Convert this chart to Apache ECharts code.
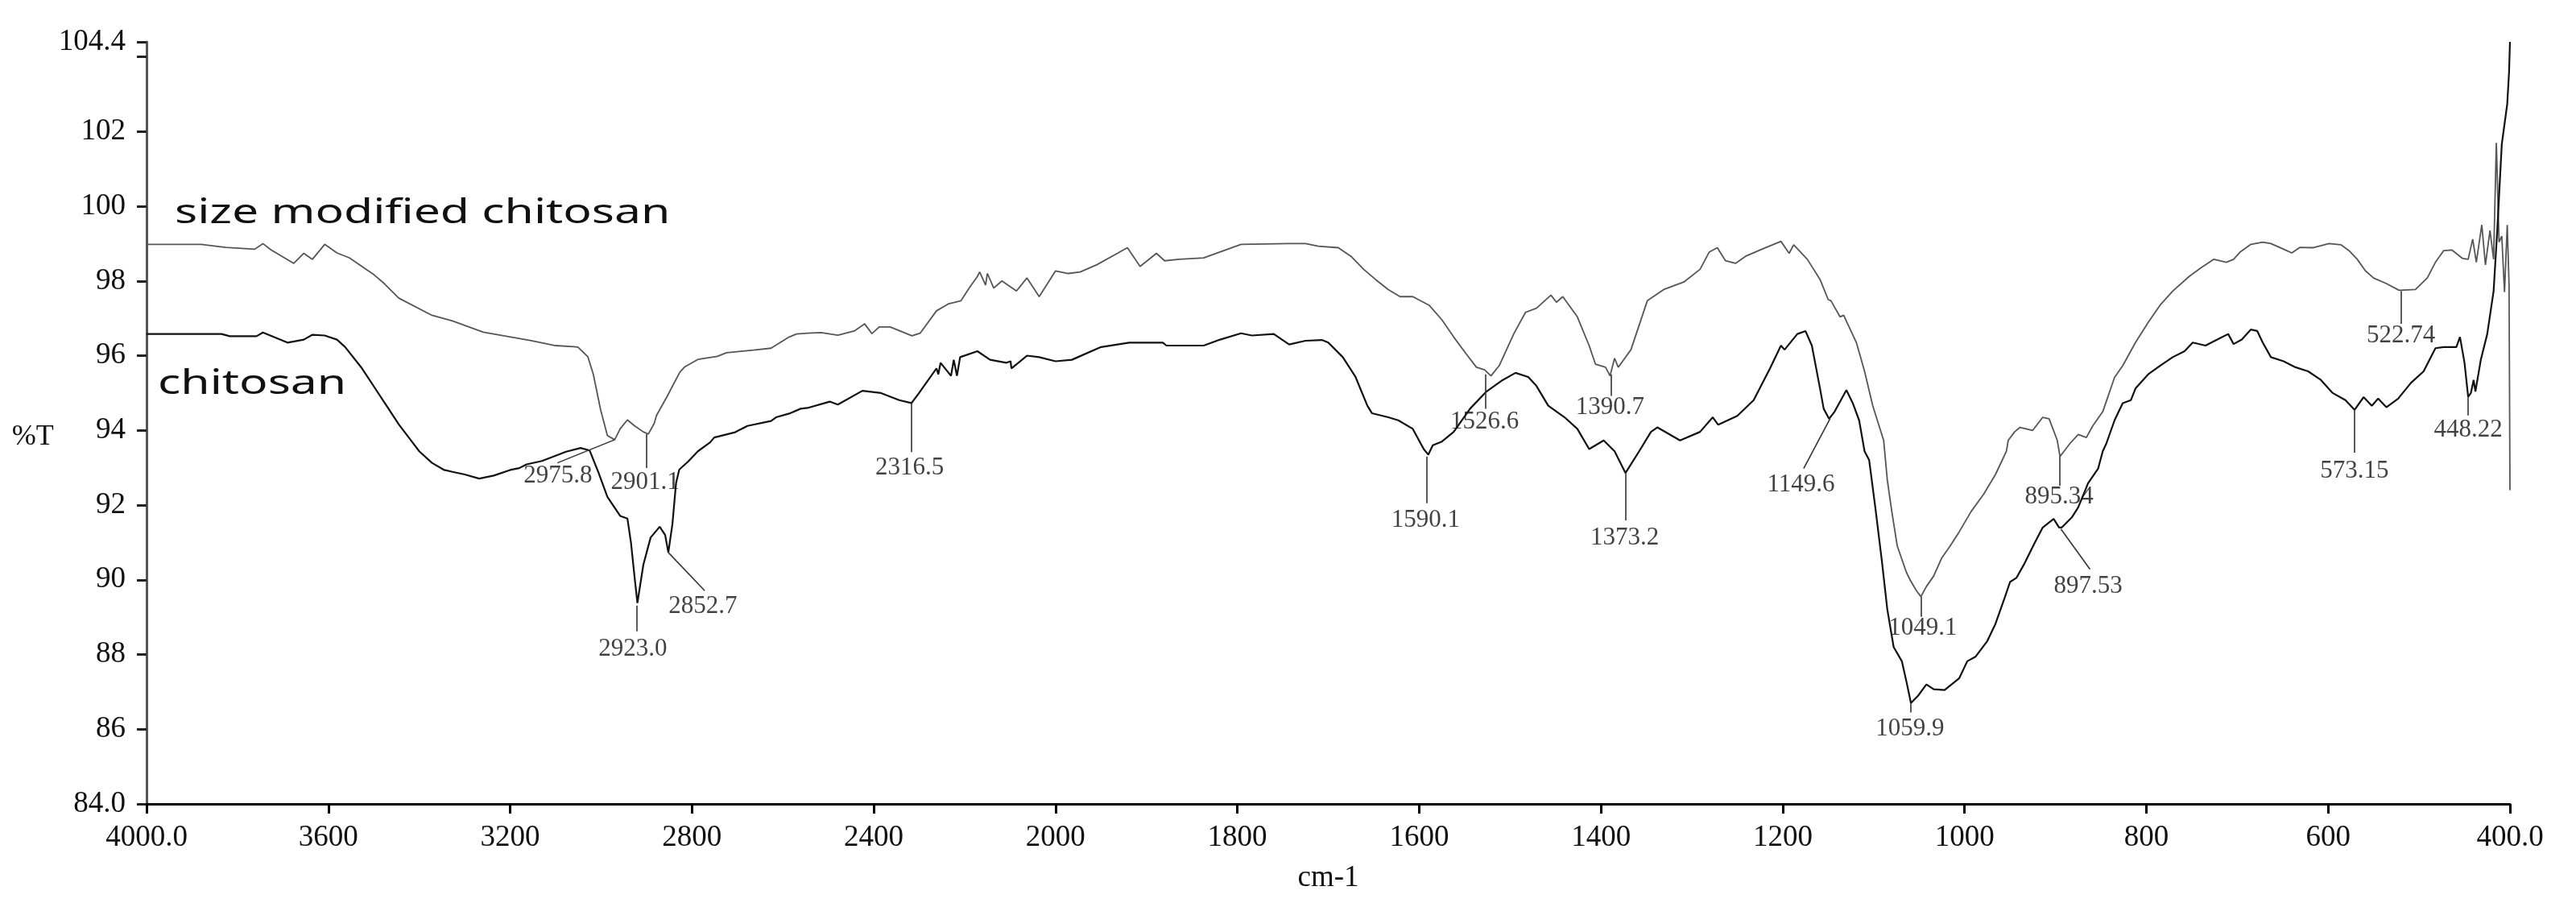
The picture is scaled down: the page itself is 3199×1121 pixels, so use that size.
<!DOCTYPE html>
<html>
<head>
<meta charset="utf-8">
<title>FTIR chitosan</title>
<style>
  html, body { margin: 0; padding: 0; background: #fff; }
  #chart { width: 3199px; height: 1121px; }
</style>
</head>
<body>
<div id="chart"></div>
<script src="https://cdn.jsdelivr.net/npm/echarts/dist/echarts.min.js"></script>
<script>
// x axis is split: 4000-2000 at 400/step, 2000-400 at 200/step (equal tick spacing)
var xTicks = [4000, 3600, 3200, 2800, 2400, 2000, 1800, 1600, 1400, 1200, 1000, 800, 600, 400];
var xTickLabels = ['4000.0', '3600', '3200', '2800', '2400', '2000', '1800', '1600', '1400', '1200', '1000', '800', '600', '400.0'];
var yTicks = [84, 86, 88, 90, 92, 94, 96, 98, 100, 102, 104.4];
var yTickLabels = ['84.0', '86', '88', '90', '92', '94', '96', '98', '100', '102', '104.4'];

// [wavenumber, %T]
var sizeModified = [
  [4000, 98.98], [3994, 98.98], [3880, 98.98], [3826, 98.9], [3762, 98.85], [3744, 99.0], [3726, 98.83],
  [3676, 98.47], [3654, 98.74], [3635, 98.58], [3608, 98.98], [3581, 98.75], [3554, 98.62], [3499, 98.16],
  [3477, 97.93], [3445, 97.54], [3372, 97.08], [3327, 96.93], [3259, 96.63], [3156, 96.41], [3100, 96.27],
  [3061, 96.24], [3051, 96.23], [3029, 95.97], [3017, 95.5], [3001, 94.55], [2986, 93.86], [2970, 93.75],
  [2958, 94.04], [2942, 94.28], [2926, 94.12], [2907, 93.96], [2896, 93.9], [2883, 94.19], [2878, 94.4],
  [2855, 94.9], [2827, 95.55], [2816, 95.7], [2787, 95.9], [2744, 95.98], [2724, 96.08], [2665, 96.15],
  [2626, 96.2], [2586, 96.5], [2570, 96.58], [2546, 96.6], [2516, 96.62], [2479, 96.55], [2443, 96.66],
  [2420, 96.85], [2404, 96.59], [2388, 96.77], [2364, 96.77], [2316, 96.53], [2298, 96.6], [2262, 97.2],
  [2235, 97.39], [2208, 97.47], [2190, 97.81], [2172, 98.12], [2167, 98.24], [2154, 97.89], [2150, 98.2],
  [2136, 97.81], [2118, 98.0], [2086, 97.73], [2063, 98.08], [2036, 97.58], [2000, 98.27], [1986, 98.2],
  [1973, 98.24], [1955, 98.43], [1932, 98.74], [1921, 98.89], [1907, 98.39], [1889, 98.74], [1880, 98.54],
  [1864, 98.58], [1837, 98.62], [1796, 98.98], [1743, 99.0], [1725, 99.0], [1711, 98.93], [1689, 98.89],
  [1675, 98.66], [1661, 98.31], [1648, 98.04], [1634, 97.77], [1621, 97.58], [1607, 97.58], [1589, 97.35],
  [1575, 96.96], [1562, 96.5], [1548, 96.04], [1537, 95.69], [1528, 95.62], [1521, 95.46], [1512, 95.73],
  [1496, 96.58], [1483, 97.16], [1471, 97.27], [1455, 97.62], [1449, 97.43], [1442, 97.58], [1426, 97.04],
  [1413, 96.27], [1406, 95.77], [1395, 95.69], [1390, 95.46], [1385, 95.93], [1381, 95.69], [1367, 96.16],
  [1349, 97.47], [1331, 97.77], [1309, 97.97], [1291, 98.31], [1281, 98.77], [1272, 98.89], [1263, 98.54],
  [1252, 98.47], [1241, 98.66], [1223, 98.85], [1202, 99.06], [1193, 98.74], [1188, 98.97], [1173, 98.58],
  [1159, 98.04], [1150, 97.5], [1147, 97.47], [1137, 97.04], [1133, 97.08], [1119, 96.35], [1110, 95.58],
  [1101, 94.66], [1089, 93.73], [1085, 92.67], [1080, 91.82], [1074, 90.9], [1064, 90.2], [1060, 90.0],
  [1053, 89.71], [1048, 89.55], [1042, 89.82], [1034, 90.1], [1025, 90.59], [1016, 90.9], [1006, 91.28],
  [993, 91.82], [979, 92.29], [966, 92.82], [954, 93.44], [952, 93.73], [945, 93.96], [939, 94.08],
  [925, 94.0], [914, 94.35], [907, 94.31], [898, 93.73], [895, 93.3], [884, 93.65], [875, 93.89],
  [866, 93.81], [859, 94.12], [848, 94.5], [835, 95.42], [826, 95.73], [812, 96.35], [798, 96.89],
  [785, 97.35], [771, 97.73], [753, 98.12], [740, 98.35], [726, 98.58], [712, 98.5], [704, 98.58],
  [697, 98.77], [685, 98.98], [672, 99.04], [663, 99.0], [649, 98.85], [640, 98.75], [631, 98.9],
  [617, 98.89], [599, 99.0], [586, 98.97], [577, 98.81], [568, 98.58], [559, 98.27], [550, 98.08],
  [536, 97.93], [522, 97.75], [504, 97.77], [491, 98.08], [482, 98.5], [473, 98.81], [464, 98.83],
  [452, 98.6], [446, 98.58], [441, 99.12], [437, 98.5], [431, 99.5], [427, 98.43], [422, 99.35],
  [418, 98.58], [415, 101.7], [412, 99.04], [409, 99.2], [406, 97.7], [403, 99.5], [401, 97.9], [400, 92.4]
];

var chitosan = [
  [4000, 96.58], [3994, 96.58], [3835, 96.58], [3817, 96.52], [3758, 96.52], [3744, 96.62], [3690, 96.35],
  [3654, 96.43], [3635, 96.56], [3608, 96.54], [3581, 96.43], [3563, 96.23], [3526, 95.66], [3499, 95.16],
  [3472, 94.66], [3445, 94.16], [3418, 93.73], [3400, 93.44], [3372, 93.13], [3345, 92.94], [3327, 92.89],
  [3300, 92.82], [3268, 92.71], [3236, 92.79], [3200, 92.94], [3180, 92.99], [3164, 93.09], [3130, 93.18],
  [3077, 93.43], [3045, 93.53], [3025, 93.46], [3006, 92.88], [2986, 92.22], [2958, 91.71], [2942, 91.64],
  [2934, 90.98], [2926, 90.04], [2920, 89.38], [2907, 90.4], [2891, 91.13], [2871, 91.42], [2859, 91.2],
  [2852, 90.73], [2843, 91.49], [2835, 92.59], [2828, 92.95], [2808, 93.17], [2787, 93.44], [2760, 93.68],
  [2751, 93.81], [2705, 93.95], [2678, 94.12], [2626, 94.25], [2615, 94.35], [2586, 94.45], [2561, 94.58],
  [2546, 94.6], [2497, 94.77], [2479, 94.69], [2425, 95.06], [2384, 95.0], [2344, 94.81], [2317, 94.73],
  [2301, 94.99], [2280, 95.35], [2262, 95.66], [2258, 95.5], [2253, 95.81], [2230, 95.46], [2224, 95.89],
  [2217, 95.46], [2210, 95.96], [2172, 96.12], [2144, 95.89], [2108, 95.81], [2099, 95.85], [2097, 95.66],
  [2063, 96.0], [2036, 95.96], [2000, 95.85], [1982, 95.89], [1950, 96.23], [1919, 96.35], [1882, 96.35],
  [1878, 96.27], [1837, 96.27], [1819, 96.43], [1796, 96.6], [1784, 96.54], [1760, 96.58], [1743, 96.3],
  [1725, 96.4], [1707, 96.42], [1700, 96.35], [1684, 95.96], [1670, 95.43], [1657, 94.66], [1652, 94.46],
  [1634, 94.35], [1623, 94.27], [1607, 94.04], [1595, 93.5], [1590, 93.35], [1585, 93.6], [1575, 93.7],
  [1562, 93.96], [1544, 94.58], [1526, 95.04], [1508, 95.35], [1494, 95.54], [1480, 95.43], [1471, 95.19],
  [1458, 94.66], [1440, 94.35], [1426, 94.04], [1413, 93.5], [1397, 93.73], [1385, 93.44], [1373, 92.86],
  [1358, 93.44], [1345, 93.96], [1338, 94.08], [1313, 93.73], [1291, 93.96], [1277, 94.35], [1271, 94.15],
  [1250, 94.39], [1232, 94.81], [1214, 95.66], [1202, 96.27], [1198, 96.16], [1184, 96.58], [1175, 96.66],
  [1168, 96.27], [1159, 95.12], [1155, 94.58], [1149, 94.31], [1143, 94.5], [1130, 95.08], [1123, 94.73],
  [1116, 94.27], [1110, 93.44], [1105, 93.21], [1098, 91.9], [1091, 90.51], [1085, 89.21], [1078, 88.2],
  [1069, 87.82], [1064, 87.28], [1059, 86.7], [1051, 86.9], [1042, 87.2], [1034, 87.07], [1022, 87.05],
  [1006, 87.36], [997, 87.82], [988, 87.94], [975, 88.36], [966, 88.82], [957, 89.44], [950, 89.94],
  [943, 90.05], [934, 90.44], [923, 90.98], [914, 91.4], [902, 91.63], [896, 91.4], [893, 91.4],
  [882, 91.67], [875, 91.94], [864, 92.59], [853, 92.98], [848, 93.44], [844, 93.65], [835, 94.27],
  [826, 94.73], [817, 94.81], [812, 95.12], [798, 95.5], [785, 95.73], [771, 95.96], [758, 96.12],
  [749, 96.35], [735, 96.27], [722, 96.43], [710, 96.58], [704, 96.31], [695, 96.43], [685, 96.7],
  [678, 96.66], [672, 96.35], [663, 95.96], [649, 95.85], [636, 95.69], [622, 95.58], [608, 95.35],
  [595, 95.0], [581, 94.81], [571, 94.55], [561, 94.89], [552, 94.66], [545, 94.85], [536, 94.62],
  [523, 94.85], [509, 95.27], [495, 95.58], [482, 96.2], [473, 96.23], [459, 96.23], [455, 96.5],
  [450, 95.81], [446, 94.9], [443, 95.0], [440, 95.35], [438, 95.04], [432, 95.9], [425, 96.58],
  [418, 97.73], [414, 99.35], [409, 101.66], [403, 102.74], [401, 103.59], [400, 104.4]
];

// peak labels: [text, wavenumber, %T] (label centre)
var peakLabels = [
  ['2975.8', 3095, 92.78], ['2901.1', 2903, 92.6], ['2923.0', 2930, 88.15], ['2852.7', 2776, 89.28],
  ['2316.5', 2321, 93.0], ['1526.6', 1528, 94.23], ['1390.7', 1390, 94.62], ['1590.1', 1593, 91.59],
  ['1373.2', 1374, 91.13], ['1149.6', 1180, 92.55], ['1059.9', 1060, 86.0], ['1049.1', 1046, 88.71],
  ['895.34', 896, 92.21], ['897.53', 864, 89.82], ['573.15', 571, 92.9], ['522.74', 520, 96.54],
  ['448.22', 446, 94.0]
];

// leader lines: [w1, T1, w2, T2]
var leaders = [
  [3096, 93.13, 2970, 93.75], [2900, 93.9, 2900, 92.99], [2922, 89.31, 2922, 88.62],
  [2852, 90.73, 2772, 89.71], [2317, 94.73, 2317, 93.42], [1527, 95.5, 1527, 94.58],
  [1389, 95.5, 1389, 94.92], [1592, 93.3, 1592, 92.05], [1373, 92.86, 1373, 91.59],
  [1148, 94.31, 1177, 92.98], [1059, 86.7, 1059, 86.45], [1048, 89.55, 1048, 89.01],
  [895, 93.3, 895, 92.52], [894, 91.36, 862, 90.28], [571, 94.55, 571, 93.4],
  [520, 97.73, 520, 96.85], [446, 94.9, 446, 94.4]
];

var seriesNames = ['size modified chitosan', 'chitosan'];

function toU(w) {
  return w >= 2000 ? (4000 - w) / 400 : 5 + (2000 - w) / 200;
}
function conv(arr) {
  return arr.map(function (p) { return [toU(p[0]), p[1]]; });
}

var serif = '"Liberation Serif", "Times New Roman", serif';

var myChart = echarts.init(document.getElementById('chart'), null, { renderer: 'canvas' });

var option = {
  backgroundColor: '#fff',
  animation: false,
  grid: { left: 182, right: 82, top: 52, bottom: 123, containLabel: false, outerBoundsMode: 'none' },
  xAxis: {
    type: 'value',
    min: 0,
    max: 13,
    interval: 1,
    axisLine: { onZero: false, lineStyle: { color: '#000', width: 3 } },
    axisTick: { inside: false, length: 12, lineStyle: { color: '#000', width: 3 } },
    splitLine: { show: false },
    axisLabel: {
      formatter: function (v) { return xTickLabels[Math.round(v)]; },
      fontFamily: serif, fontSize: 37, color: '#111', margin: 24
    },
    name: 'cm-1',
    nameLocation: 'middle',
    nameGap: 74,
    nameTextStyle: { fontFamily: serif, fontSize: 37, color: '#111' }
  },
  yAxis: {
    type: 'value',
    min: 84,
    max: 104.4,
    interval: 2,
    axisLine: { show: true, lineStyle: { color: '#555', width: 3 } },
    axisTick: { show: true, inside: false, length: 12, lineStyle: { color: '#222', width: 3 } },
    splitLine: { show: false },
    axisLabel: {
      formatter: function (v) {
        for (var i = 0; i < yTicks.length; i++) {
          if (Math.abs(yTicks[i] - v) < 0.01) return yTickLabels[i];
        }
        return '';
      },
      fontFamily: serif, fontSize: 37, color: '#111', margin: 26,
      verticalAlign: 'middle', padding: [0, 0, 18, 0]
    },
    name: '%T',
    nameLocation: 'middle',
    nameRotate: 0,
    nameGap: 103,
    nameTextStyle: { fontFamily: serif, fontSize: 36, color: '#111', verticalAlign: 'top' }
  },
  series: [
    {
      name: seriesNames[0],
      type: 'line',
      data: conv(sizeModified),
      symbol: 'none',
      lineStyle: { color: '#555', width: 1.8 },
      z: 3
    },
    {
      name: seriesNames[1],
      type: 'line',
      data: conv(chitosan),
      symbol: 'none',
      lineStyle: { color: '#111', width: 2.2 },
      z: 3
    },
    {
      type: 'lines',
      coordinateSystem: 'cartesian2d',
      silent: true,
      data: leaders.map(function (l) {
        return { coords: [[toU(l[0]), l[1]], [toU(l[2]), l[3]]] };
      }),
      lineStyle: { color: '#333', width: 1.6, opacity: 1 },
      z: 4
    },
    {
      type: 'scatter',
      silent: true,
      symbolSize: 0,
      data: peakLabels.map(function (p) {
        return { name: p[0], value: [toU(p[1]), p[2]] };
      }),
      label: {
        show: true, position: 'inside', formatter: '{b}',
        fontFamily: serif, fontSize: 31, color: '#111'
      },
      z: 5
    }
  ]
};

myChart.setOption(option);

// series names written next to the curves (stretched like the original figure)
var p1 = myChart.convertToPixel({ gridIndex: 0 }, [toU(3938), 99.8]);
var p2 = myChart.convertToPixel({ gridIndex: 0 }, [toU(3975), 95.23]);
var sans = '42px "Noto Sans", "DejaVu Sans", sans-serif';
myChart.setOption({
  graphic: [
    {
      type: 'text', x: p1[0], y: p1[1], scaleX: 1.4, silent: true,
      style: { text: seriesNames[0], font: sans, fill: '#111', textAlign: 'left', textVerticalAlign: 'middle' }
    },
    {
      type: 'text', x: p2[0], y: p2[1], scaleX: 1.4, silent: true,
      style: { text: seriesNames[1], font: sans, fill: '#111', textAlign: 'left', textVerticalAlign: 'middle' }
    }
  ]
});
</script>
</body>
</html>
